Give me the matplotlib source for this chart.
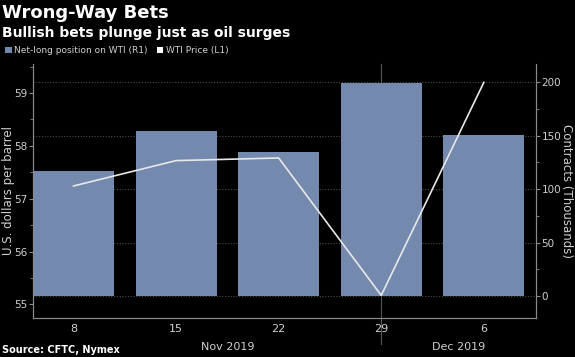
import matplotlib
matplotlib.use("Agg")
import matplotlib.pyplot as plt
from matplotlib.patches import Patch
from matplotlib.ticker import MultipleLocator
from matplotlib.lines import Line2D

# --- Data ---
weeks = ["8", "15", "22", "29", "6"]
months = ["Nov 2019", "Dec 2019"]
net_long = [117, 154, 135, 199, 151]          # thousands of contracts (R1)
wti_price = [57.24, 57.72, 57.77, 55.17, 59.20]  # USD per barrel (L1)

BG = "black"
BAR = "#7389ad"
TXT = "#d0d0d0"
AXC = "#8a8a8a"
GRID = "#4a4a4a"

plt.rcParams['font.family'] = ['DejaVu Sans']

fig = plt.figure(figsize=(5.75, 3.57), dpi=100, facecolor=BG)
ax = fig.add_axes([0.0574, 0.109, 0.875, 0.712])
ax2 = ax.twinx()

x = list(range(len(weeks)))

# bars on the right axis
ax2.set_facecolor(BG)
ax2.bar(x, net_long, width=0.79, color=BAR, zorder=2)
ax2.set_ylim(-20.5, 217)
ax2.yaxis.set_major_locator(MultipleLocator(50))
ax2.yaxis.set_minor_locator(MultipleLocator(25))
ax2.grid(axis='y', which='major', color=GRID, linestyle=(0, (1, 1.5)), linewidth=0.8)
ax2.set_axisbelow(True)

# month separator at the 29th, running below the axis
ax2.add_line(Line2D([3, 3], [-0.1, 1.0], transform=ax2.get_xaxis_transform(),
                    color="#555555", linewidth=0.8, clip_on=False, zorder=1))

# line on the left axis, drawn above the bars
ax.set_zorder(ax2.get_zorder() + 1)
ax.patch.set_visible(False)
ax.plot(x, wti_price, color="#e8e8e8", linewidth=1.2)
ax.set_ylim(54.74, 59.55)
ax.yaxis.set_major_locator(MultipleLocator(1))
ax.yaxis.set_minor_locator(MultipleLocator(0.5))
ax.set_xlim(-0.395, 4.51)
ax.set_xticks(x)
ax.set_xticklabels(weeks)

for a in (ax, ax2):
    a.spines['top'].set_visible(False)
    for s in ('left', 'right', 'bottom'):
        a.spines[s].set_color(AXC)
        a.spines[s].set_linewidth(0.8)
    a.tick_params(colors=AXC, labelcolor=TXT, labelsize=7.5, length=3, width=0.8, pad=1)
    a.tick_params(which='minor', colors=AXC, length=2, width=0.6)
ax.tick_params(axis='x', length=0, pad=4, labelsize=8)

ax.set_ylabel("U.S. dollars per barrel", color=TXT, fontsize=8.5, va='center')
ax.yaxis.set_label_coords(-0.048, 0.5)
ax2.set_ylabel("Contracts (Thousands)", color=TXT, fontsize=8.5, rotation=270, va='center')
ax2.yaxis.set_label_coords(1.06, 0.5)

# month labels
ax.text(1.5, -0.095, months[0], transform=ax.get_xaxis_transform(),
        ha='center', va='top', color=TXT, fontsize=8)
ax.text(3.75, -0.095, months[1], transform=ax.get_xaxis_transform(),
        ha='center', va='top', color=TXT, fontsize=8)

# titles
fig.text(0.004, 0.99, "Wrong-Way Bets", color="white", fontsize=13,
         fontweight='bold', va='top', ha='left')
fig.text(0.004, 0.928, "Bullish bets plunge just as oil surges", color="white",
         fontsize=10, fontweight='bold', va='top', ha='left')

handles = [Patch(facecolor=BAR, edgecolor='none'), Patch(facecolor='white', edgecolor='none')]
fig.legend(handles, ["Net-long position on WTI (R1)", "WTI Price (L1)"],
           loc='upper left', bbox_to_anchor=(0.0, 0.885), frameon=False, ncol=2,
           fontsize=6.5, labelcolor=TXT, handlelength=0.7, handleheight=0.7,
           handletextpad=0.3, columnspacing=1.0, borderaxespad=0.2)

fig.text(0.004, 0.005, "Source: CFTC, Nymex", color="white", fontsize=7,
         fontweight='bold', va='bottom', ha='left')

fig.savefig("out.png", dpi=100, facecolor=BG)
